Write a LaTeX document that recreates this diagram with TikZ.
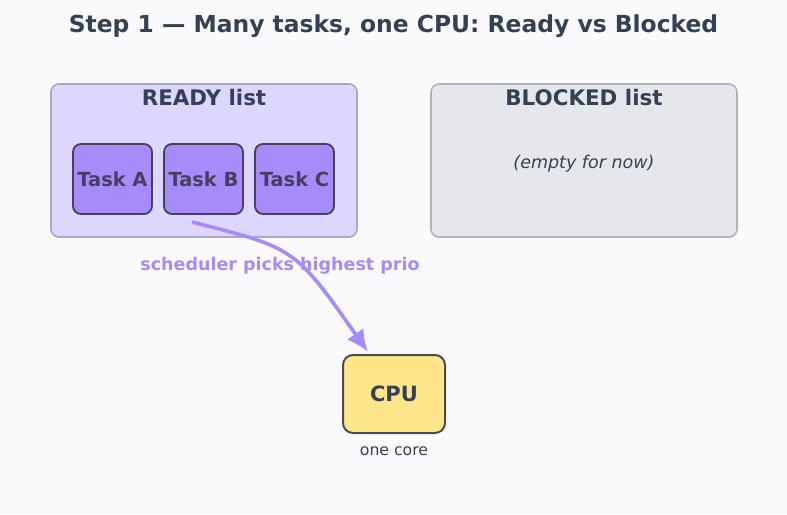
\documentclass[tikz,border=0pt]{standalone}
\usepackage{fontspec}
\setmainfont{DejaVu Sans}
\usetikzlibrary{arrows.meta}
\definecolor{bgc}{HTML}{FAFAFD}
\definecolor{titlec}{HTML}{334155}
\definecolor{readyfill}{HTML}{DDD6FE}
\definecolor{readydraw}{HTML}{ABA6C4}
\definecolor{taskfill}{HTML}{A78BFA}
\definecolor{taskdraw}{HTML}{45405E}
\definecolor{blockfill}{HTML}{E5E7EB}
\definecolor{blockdraw}{HTML}{B1B2B8}
\definecolor{arrowc}{HTML}{A78BFA}
\definecolor{cpufill}{HTML}{FDE68A}
\definecolor{cpudraw}{HTML}{4B4B55}
\definecolor{textc}{HTML}{374151}
\tikzset{
  listbox/.style={rounded corners=8pt, line width=1.6pt, minimum width=306pt, minimum height=153pt},
  taskbox/.style={rounded corners=8pt, line width=1.8pt, fill=taskfill, draw=taskdraw,
    minimum width=79pt, minimum height=70pt, inner sep=0pt, text=taskdraw,
    font=\fontsize{19.4}{21}\selectfont\bfseries},
  listtitle/.style={text=titlec, font=\fontsize{21.4}{23}\selectfont\bfseries},
  flow/.style={draw=arrowc, line width=3.6pt, arrows={-Latex[length=22pt,width=20pt]}},
}
\begin{document}
\begin{tikzpicture}[x=1pt,y=-1pt]
\fill[bgc] (0,0) rectangle (787,514);
\useasboundingbox (0,0) rectangle (787,514);
\node[text=titlec, font=\fontsize{23.4}{25}\selectfont\bfseries] (title) at (393.5,26) {Step 1 — Many tasks, one CPU: Ready vs Blocked};
\node[listbox, fill=readyfill, draw=readydraw] (ready) at (204,160.5) {};
\node[listtitle] (readyt) at (204,98) {READY list};
\node[taskbox] (ta) at (112.5,179) {Task A};
\node[taskbox] (tb) at (203.5,179) {Task B};
\node[taskbox] (tc) at (294.5,179) {Task C};
\node[listbox, fill=blockfill, draw=blockdraw] (blocked) at (584,160.5) {};
\node[listtitle] (blockedt) at (584,98) {BLOCKED list};
\node[text=textc, font=\fontsize{17.5}{19}\selectfont\itshape] (empty) at (584,163.5) {(empty for now)};
\node[rounded corners=10pt, line width=2pt, fill=cpufill, draw=cpudraw, minimum width=102pt, minimum height=78pt,
  text=titlec, font=\fontsize{21}{23}\selectfont\bfseries] (cpu) at (394,394) {CPU};
\node[text=textc, font=\fontsize{15.7}{17}\selectfont] (core) at (394,451) {one core};
\coordinate (s) at (192,222);
\coordinate (e) at (368,352);
\draw[flow] (s) .. controls (295,248) .. (e);
\node[text=arrowc, font=\fontsize{17.5}{19}\selectfont\bfseries] (lbl) at (280,265.5) {scheduler picks highest prio};
\end{tikzpicture}
\end{document}
